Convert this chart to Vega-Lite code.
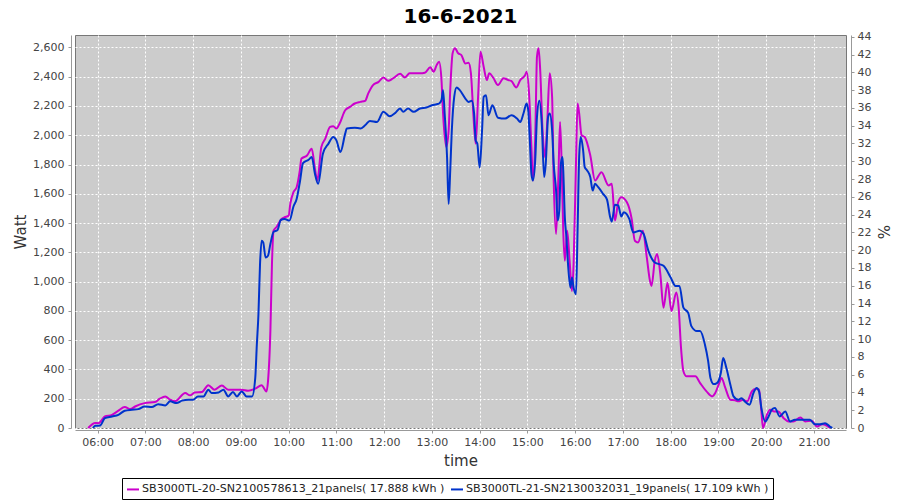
{
"$schema":"https://vega.github.io/schema/vega-lite/v6.json",
"width":771,"height":393,
"autosize":{"type":"none"},
"padding":{"left":75,"top":35,"right":54,"bottom":72},
"background":"white",
"title":{"text":"16-6-2021","font":"DejaVu Sans","fontSize":20,"fontWeight":"bold","color":"black"},
"config":{
 "view":{"fill":"#cccccc","stroke":"#777777","strokeWidth":1},
 "axis":{"labelFont":"DejaVu Sans","labelFontSize":11,"labelColor":"#444444","titleFont":"DejaVu Sans","titleFontSize":15,"titleFontWeight":"normal","titleColor":"#333333","domainColor":"#999999","tickColor":"#999999","tickSize":3,"gridColor":"white","gridDash":[2,2],"gridOpacity":1,"gridWidth":1}
},
"resolve":{"scale":{"y":"independent"}},
"layer":[
{
"data":{"format":{"parse":{"t":"date:'%H:%M'"}},"values":[
{"s":"a","t":"05:48","w":0},{"s":"a","t":"05:57","w":35},{"s":"a","t":"06:01","w":33},{"s":"a","t":"06:09","w":79},{"s":"a","t":"06:18","w":90},{"s":"a","t":"06:26","w":118},{"s":"a","t":"06:34","w":143},{"s":"a","t":"06:41","w":129},{"s":"a","t":"06:47","w":147},{"s":"a","t":"06:59","w":170},{"s":"a","t":"07:12","w":177},{"s":"a","t":"07:18","w":200},{"s":"a","t":"07:25","w":216},{"s":"a","t":"07:31","w":193},{"s":"a","t":"07:37","w":182},{"s":"a","t":"07:50","w":239},{"s":"a","t":"07:56","w":223},{"s":"a","t":"08:02","w":243},{"s":"a","t":"08:11","w":246},{"s":"a","t":"08:19","w":292},{"s":"a","t":"08:27","w":262},{"s":"a","t":"08:36","w":290},{"s":"a","t":"08:44","w":262},{"s":"a","t":"09:01","w":262},{"s":"a","t":"09:09","w":255},{"s":"a","t":"09:18","w":269},{"s":"a","t":"09:26","w":292},{"s":"a","t":"09:32","w":250},{"s":"a","t":"09:34","w":319},{"s":"a","t":"09:37","w":662},{"s":"a","t":"09:39","w":1122},{"s":"a","t":"09:41","w":1348},{"s":"a","t":"09:45","w":1375},{"s":"a","t":"09:51","w":1428},{"s":"a","t":"09:55","w":1440},{"s":"a","t":"10:00","w":1451},{"s":"a","t":"10:02","w":1531},{"s":"a","t":"10:06","w":1611},{"s":"a","t":"10:10","w":1645},{"s":"a","t":"10:14","w":1760},{"s":"a","t":"10:16","w":1840},{"s":"a","t":"10:23","w":1862},{"s":"a","t":"10:29","w":1908},{"s":"a","t":"10:33","w":1771},{"s":"a","t":"10:36","w":1691},{"s":"a","t":"10:41","w":1919},{"s":"a","t":"10:46","w":1977},{"s":"a","t":"10:52","w":2057},{"s":"a","t":"10:56","w":2062},{"s":"a","t":"11:00","w":2046},{"s":"a","t":"11:04","w":2080},{"s":"a","t":"11:11","w":2171},{"s":"a","t":"11:17","w":2194},{"s":"a","t":"11:23","w":2217},{"s":"a","t":"11:30","w":2228},{"s":"a","t":"11:36","w":2235},{"s":"a","t":"11:40","w":2286},{"s":"a","t":"11:46","w":2343},{"s":"a","t":"11:53","w":2365},{"s":"a","t":"11:59","w":2395},{"s":"a","t":"12:05","w":2372},{"s":"a","t":"12:11","w":2388},{"s":"a","t":"12:20","w":2420},{"s":"a","t":"12:26","w":2395},{"s":"a","t":"12:32","w":2423},{"s":"a","t":"12:45","w":2423},{"s":"a","t":"12:51","w":2427},{"s":"a","t":"12:58","w":2464},{"s":"a","t":"13:02","w":2434},{"s":"a","t":"13:06","w":2480},{"s":"a","t":"13:09","w":2502},{"s":"a","t":"13:12","w":2377},{"s":"a","t":"13:14","w":2149},{"s":"a","t":"13:18","w":1919},{"s":"a","t":"13:21","w":2034},{"s":"a","t":"13:23","w":2308},{"s":"a","t":"13:26","w":2560},{"s":"a","t":"13:29","w":2594},{"s":"a","t":"13:33","w":2560},{"s":"a","t":"13:37","w":2548},{"s":"a","t":"13:42","w":2491},{"s":"a","t":"13:46","w":2495},{"s":"a","t":"13:49","w":2423},{"s":"a","t":"13:52","w":2149},{"s":"a","t":"13:55","w":1943},{"s":"a","t":"13:58","w":2262},{"s":"a","t":"14:01","w":2571},{"s":"a","t":"14:05","w":2468},{"s":"a","t":"14:09","w":2377},{"s":"a","t":"14:12","w":2423},{"s":"a","t":"14:17","w":2393},{"s":"a","t":"14:23","w":2343},{"s":"a","t":"14:30","w":2390},{"s":"a","t":"14:36","w":2377},{"s":"a","t":"14:40","w":2370},{"s":"a","t":"14:46","w":2327},{"s":"a","t":"14:51","w":2377},{"s":"a","t":"14:57","w":2410},{"s":"a","t":"14:59","w":2434},{"s":"a","t":"15:02","w":2290},{"s":"a","t":"15:05","w":1919},{"s":"a","t":"15:07","w":1691},{"s":"a","t":"15:10","w":2034},{"s":"a","t":"15:12","w":2537},{"s":"a","t":"15:14","w":2594},{"s":"a","t":"15:16","w":2450},{"s":"a","t":"15:19","w":2034},{"s":"a","t":"15:22","w":1850},{"s":"a","t":"15:25","w":2103},{"s":"a","t":"15:28","w":2423},{"s":"a","t":"15:31","w":2262},{"s":"a","t":"15:33","w":1691},{"s":"a","t":"15:36","w":1325},{"s":"a","t":"15:39","w":1737},{"s":"a","t":"15:41","w":2091},{"s":"a","t":"15:43","w":1805},{"s":"a","t":"15:45","w":1348},{"s":"a","t":"15:47","w":1142},{"s":"a","t":"15:50","w":1348},{"s":"a","t":"15:53","w":1142},{"s":"a","t":"15:56","w":936},{"s":"a","t":"15:58","w":1120},{"s":"a","t":"16:01","w":1805},{"s":"a","t":"16:03","w":2217},{"s":"a","t":"16:05","w":2149},{"s":"a","t":"16:08","w":2000},{"s":"a","t":"16:12","w":1988},{"s":"a","t":"16:19","w":1862},{"s":"a","t":"16:25","w":1691},{"s":"a","t":"16:33","w":1748},{"s":"a","t":"16:42","w":1657},{"s":"a","t":"16:46","w":1668},{"s":"a","t":"16:50","w":1417},{"s":"a","t":"16:54","w":1542},{"s":"a","t":"16:58","w":1577},{"s":"a","t":"17:05","w":1542},{"s":"a","t":"17:11","w":1428},{"s":"a","t":"17:15","w":1279},{"s":"a","t":"17:19","w":1268},{"s":"a","t":"17:25","w":1348},{"s":"a","t":"17:30","w":1165},{"s":"a","t":"17:34","w":1005},{"s":"a","t":"17:36","w":971},{"s":"a","t":"17:40","w":1142},{"s":"a","t":"17:43","w":1188},{"s":"a","t":"17:47","w":1051},{"s":"a","t":"17:51","w":822},{"s":"a","t":"17:56","w":993},{"s":"a","t":"18:01","w":799},{"s":"a","t":"18:07","w":925},{"s":"a","t":"18:10","w":822},{"s":"a","t":"18:13","w":547},{"s":"a","t":"18:16","w":388},{"s":"a","t":"18:20","w":353},{"s":"a","t":"18:31","w":353},{"s":"a","t":"18:37","w":307},{"s":"a","t":"18:45","w":250},{"s":"a","t":"18:52","w":216},{"s":"a","t":"18:56","w":239},{"s":"a","t":"19:01","w":307},{"s":"a","t":"19:04","w":342},{"s":"a","t":"19:08","w":285},{"s":"a","t":"19:15","w":193},{"s":"a","t":"19:21","w":189},{"s":"a","t":"19:25","w":182},{"s":"a","t":"19:31","w":193},{"s":"a","t":"19:36","w":182},{"s":"a","t":"19:42","w":250},{"s":"a","t":"19:47","w":269},{"s":"a","t":"19:51","w":262},{"s":"a","t":"19:54","w":113},{"s":"a","t":"19:56","w":0},{"s":"a","t":"20:01","w":91},{"s":"a","t":"20:05","w":125},{"s":"a","t":"20:10","w":113},{"s":"a","t":"20:15","w":113},{"s":"a","t":"20:22","w":67},{"s":"a","t":"20:28","w":45},{"s":"a","t":"20:34","w":45},{"s":"a","t":"20:43","w":72},{"s":"a","t":"20:49","w":45},{"s":"a","t":"20:57","w":49},{"s":"a","t":"21:04","w":10},{"s":"a","t":"21:10","w":26},{"s":"a","t":"21:16","w":17},{"s":"a","t":"21:20","w":0},
{"s":"b","t":"05:54","w":0},{"s":"b","t":"05:57","w":15},{"s":"b","t":"06:03","w":17},{"s":"b","t":"06:09","w":67},{"s":"b","t":"06:18","w":79},{"s":"b","t":"06:26","w":90},{"s":"b","t":"06:34","w":118},{"s":"b","t":"06:43","w":125},{"s":"b","t":"06:51","w":129},{"s":"b","t":"06:59","w":147},{"s":"b","t":"07:08","w":143},{"s":"b","t":"07:16","w":163},{"s":"b","t":"07:25","w":154},{"s":"b","t":"07:31","w":182},{"s":"b","t":"07:39","w":170},{"s":"b","t":"07:46","w":187},{"s":"b","t":"07:54","w":193},{"s":"b","t":"08:00","w":193},{"s":"b","t":"08:06","w":216},{"s":"b","t":"08:13","w":216},{"s":"b","t":"08:19","w":262},{"s":"b","t":"08:23","w":239},{"s":"b","t":"08:32","w":243},{"s":"b","t":"08:38","w":262},{"s":"b","t":"08:44","w":216},{"s":"b","t":"08:50","w":246},{"s":"b","t":"08:55","w":216},{"s":"b","t":"09:01","w":250},{"s":"b","t":"09:07","w":216},{"s":"b","t":"09:14","w":216},{"s":"b","t":"09:18","w":342},{"s":"b","t":"09:20","w":571},{"s":"b","t":"09:22","w":776},{"s":"b","t":"09:24","w":1120},{"s":"b","t":"09:26","w":1279},{"s":"b","t":"09:28","w":1268},{"s":"b","t":"09:31","w":1165},{"s":"b","t":"09:34","w":1177},{"s":"b","t":"09:37","w":1257},{"s":"b","t":"09:41","w":1340},{"s":"b","t":"09:46","w":1353},{"s":"b","t":"09:50","w":1421},{"s":"b","t":"09:55","w":1428},{"s":"b","t":"10:01","w":1417},{"s":"b","t":"10:06","w":1513},{"s":"b","t":"10:10","w":1565},{"s":"b","t":"10:14","w":1679},{"s":"b","t":"10:18","w":1810},{"s":"b","t":"10:25","w":1833},{"s":"b","t":"10:29","w":1851},{"s":"b","t":"10:33","w":1737},{"s":"b","t":"10:37","w":1668},{"s":"b","t":"10:43","w":1874},{"s":"b","t":"10:50","w":1943},{"s":"b","t":"10:56","w":1988},{"s":"b","t":"11:00","w":1965},{"s":"b","t":"11:05","w":1885},{"s":"b","t":"11:11","w":2011},{"s":"b","t":"11:13","w":2046},{"s":"b","t":"11:23","w":2052},{"s":"b","t":"11:30","w":2046},{"s":"b","t":"11:36","w":2068},{"s":"b","t":"11:42","w":2098},{"s":"b","t":"11:51","w":2091},{"s":"b","t":"11:59","w":2160},{"s":"b","t":"12:07","w":2130},{"s":"b","t":"12:14","w":2153},{"s":"b","t":"12:20","w":2183},{"s":"b","t":"12:24","w":2160},{"s":"b","t":"12:30","w":2183},{"s":"b","t":"12:37","w":2160},{"s":"b","t":"12:45","w":2183},{"s":"b","t":"12:53","w":2190},{"s":"b","t":"13:00","w":2205},{"s":"b","t":"13:06","w":2212},{"s":"b","t":"13:09","w":2217},{"s":"b","t":"13:12","w":2240},{"s":"b","t":"13:14","w":2308},{"s":"b","t":"13:16","w":2149},{"s":"b","t":"13:19","w":1851},{"s":"b","t":"13:21","w":1531},{"s":"b","t":"13:23","w":1760},{"s":"b","t":"13:25","w":2034},{"s":"b","t":"13:28","w":2262},{"s":"b","t":"13:31","w":2327},{"s":"b","t":"13:35","w":2308},{"s":"b","t":"13:42","w":2251},{"s":"b","t":"13:46","w":2228},{"s":"b","t":"13:50","w":2235},{"s":"b","t":"13:53","w":2149},{"s":"b","t":"13:55","w":1965},{"s":"b","t":"13:57","w":1943},{"s":"b","t":"14:00","w":1780},{"s":"b","t":"14:03","w":2034},{"s":"b","t":"14:05","w":2262},{"s":"b","t":"14:08","w":2274},{"s":"b","t":"14:11","w":2137},{"s":"b","t":"14:16","w":2205},{"s":"b","t":"14:23","w":2120},{"s":"b","t":"14:32","w":2114},{"s":"b","t":"14:40","w":2137},{"s":"b","t":"14:47","w":2114},{"s":"b","t":"14:51","w":2091},{"s":"b","t":"14:55","w":2149},{"s":"b","t":"14:59","w":2217},{"s":"b","t":"15:01","w":2171},{"s":"b","t":"15:03","w":1965},{"s":"b","t":"15:05","w":1737},{"s":"b","t":"15:07","w":1691},{"s":"b","t":"15:10","w":1851},{"s":"b","t":"15:12","w":2125},{"s":"b","t":"15:15","w":2235},{"s":"b","t":"15:18","w":2080},{"s":"b","t":"15:21","w":1714},{"s":"b","t":"15:23","w":1805},{"s":"b","t":"15:26","w":2125},{"s":"b","t":"15:28","w":2149},{"s":"b","t":"15:31","w":2034},{"s":"b","t":"15:33","w":1805},{"s":"b","t":"15:36","w":1622},{"s":"b","t":"15:38","w":1417},{"s":"b","t":"15:40","w":1485},{"s":"b","t":"15:42","w":1805},{"s":"b","t":"15:44","w":1851},{"s":"b","t":"15:45","w":1760},{"s":"b","t":"15:47","w":1440},{"s":"b","t":"15:49","w":1302},{"s":"b","t":"15:51","w":1120},{"s":"b","t":"15:54","w":959},{"s":"b","t":"15:56","w":1028},{"s":"b","t":"15:58","w":959},{"s":"b","t":"16:01","w":914},{"s":"b","t":"16:03","w":1348},{"s":"b","t":"16:05","w":1851},{"s":"b","t":"16:07","w":1988},{"s":"b","t":"16:10","w":1897},{"s":"b","t":"16:12","w":1782},{"s":"b","t":"16:15","w":1760},{"s":"b","t":"16:19","w":1714},{"s":"b","t":"16:22","w":1622},{"s":"b","t":"16:25","w":1668},{"s":"b","t":"16:29","w":1645},{"s":"b","t":"16:35","w":1600},{"s":"b","t":"16:40","w":1560},{"s":"b","t":"16:44","w":1440},{"s":"b","t":"16:46","w":1410},{"s":"b","t":"16:50","w":1525},{"s":"b","t":"16:54","w":1520},{"s":"b","t":"16:58","w":1445},{"s":"b","t":"17:01","w":1474},{"s":"b","t":"17:08","w":1428},{"s":"b","t":"17:13","w":1336},{"s":"b","t":"17:21","w":1348},{"s":"b","t":"17:26","w":1325},{"s":"b","t":"17:32","w":1211},{"s":"b","t":"17:40","w":1131},{"s":"b","t":"17:51","w":1108},{"s":"b","t":"18:00","w":1028},{"s":"b","t":"18:06","w":971},{"s":"b","t":"18:11","w":971},{"s":"b","t":"18:16","w":822},{"s":"b","t":"18:22","w":787},{"s":"b","t":"18:26","w":696},{"s":"b","t":"18:33","w":662},{"s":"b","t":"18:37","w":662},{"s":"b","t":"18:43","w":571},{"s":"b","t":"18:47","w":460},{"s":"b","t":"18:50","w":342},{"s":"b","t":"18:54","w":300},{"s":"b","t":"18:58","w":307},{"s":"b","t":"19:00","w":319},{"s":"b","t":"19:03","w":376},{"s":"b","t":"19:06","w":479},{"s":"b","t":"19:10","w":410},{"s":"b","t":"19:15","w":296},{"s":"b","t":"19:19","w":216},{"s":"b","t":"19:25","w":193},{"s":"b","t":"19:29","w":204},{"s":"b","t":"19:33","w":182},{"s":"b","t":"19:39","w":159},{"s":"b","t":"19:44","w":239},{"s":"b","t":"19:48","w":273},{"s":"b","t":"19:51","w":250},{"s":"b","t":"19:54","w":136},{"s":"b","t":"19:59","w":45},{"s":"b","t":"20:03","w":79},{"s":"b","t":"20:07","w":125},{"s":"b","t":"20:11","w":136},{"s":"b","t":"20:17","w":79},{"s":"b","t":"20:24","w":113},{"s":"b","t":"20:30","w":45},{"s":"b","t":"20:36","w":56},{"s":"b","t":"20:47","w":56},{"s":"b","t":"20:55","w":56},{"s":"b","t":"21:01","w":26},{"s":"b","t":"21:08","w":26},{"s":"b","t":"21:14","w":33},{"s":"b","t":"21:20","w":10},{"s":"b","t":"21:23","w":0}
]},
"transform":[{"lookup":"s","from":{"data":{"values":[{"s":"a","name":"SB3000TL-20-SN2100578613_21panels( 17.888 kWh )"},{"s":"b","name":"SB3000TL-21-SN2130032031_19panels( 17.109 kWh )"}]},"key":"s","fields":["name"]}}],
"mark":{"type":"line","strokeWidth":2,"interpolate":"monotone"},
"encoding":{
 "x":{"field":"t","type":"temporal","scale":{"domain":[{"year":1900,"month":1,"date":1,"hours":5,"minutes":31,"seconds":30},{"year":1900,"month":1,"date":1,"hours":21,"minutes":40,"seconds":18}]},
  "axis":{"title":"time","format":"%H:%M","tickCount":16,"offset":2,"labelPadding":3,"titlePadding":6,"grid":true}},
 "y":{"field":"w","type":"quantitative","scale":{"domain":[0,2685],"nice":false,"zero":true},
  "axis":{"title":"Watt","format":",.0f","values":[0,200,400,600,800,1000,1200,1400,1600,1800,2000,2200,2400,2600],"offset":4,"labelPadding":4,"titlePadding":4,"grid":true}},
 "color":{"field":"name","type":"nominal","scale":{"range":["#cc00cc","#0033cc"]},
  "legend":{"title":null,"orient":"none","legendX":47,"legendY":443,"direction":"horizontal","strokeColor":"black","fillColor":"white","padding":4,"symbolType":"stroke","symbolSize":144,"symbolStrokeWidth":2,"labelFont":"DejaVu Sans","labelFontSize":11.1,"labelColor":"#222222","labelLimit":500,"columnPadding":2,"labelOffset":2}}
}
},
{
"data":{"values":[{"p":0}]},
"mark":{"type":"rule","opacity":0},
"encoding":{
 "y":{"field":"p","type":"quantitative","scale":{"domain":[0,44.2],"nice":false},
  "axis":{"orient":"right","title":"%","values":[0,2,4,6,8,10,12,14,16,18,20,22,24,26,28,30,32,34,36,38,40,42,44],"offset":5,"labelPadding":3,"titlePadding":4,"grid":false}}
}
}
]
}
